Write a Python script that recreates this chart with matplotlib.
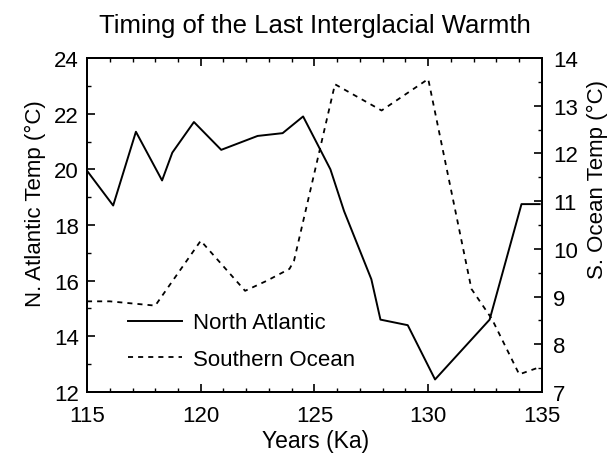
import matplotlib
matplotlib.use("Agg")
from matplotlib import pyplot as plt

# North Atlantic temperature (left axis)
na_years = [115.0, 116.15, 117.15, 118.3, 118.75, 119.7, 120.9, 122.5, 123.6, 124.5,
            125.7, 126.3, 127.5, 127.9, 129.1, 130.3, 132.7, 134.1, 134.9]
na_temp = [19.95, 18.7, 21.35, 19.6, 20.6, 21.7, 20.7, 21.2, 21.3, 21.9,
           20.0, 18.5, 16.05, 14.6, 14.4, 12.45, 14.6, 18.75, 18.75]

# Southern Ocean temperature (right axis)
so_years = [115.0, 116.0, 118.0, 120.0, 121.95, 122.9, 123.9, 124.1, 125.9,
            127.95, 130.0, 131.9, 132.8, 134.0, 134.9]
so_temp = [8.9, 8.9, 8.81, 10.17, 9.12, 9.33, 9.58, 9.75, 13.45,
           12.9, 13.56, 9.16, 8.53, 7.37, 7.52]

plt.rcParams['font.family'] = ['Liberation Sans', 'DejaVu Sans']

fig = plt.figure(figsize=(6.11, 4.56), dpi=100)
ax = fig.add_axes([0.1424, 0.1382, 0.7446, 0.7324])
ax2 = ax.twinx()

l1, = ax.plot(na_years, na_temp, color='black', lw=1.4, label='North Atlantic')
l2, = ax2.plot(so_years, so_temp, color='black', lw=1.3, dashes=(2.8, 2.8),
               label='Southern Ocean')

ax.set_xlim(115, 135)
ax.set_ylim(12, 24)
ax2.set_ylim(7, 14)
ax.set_xticks(range(115, 136, 5))
ax.set_xticks(range(115, 136), minor=True)
ax.set_yticks(range(12, 25, 2))
ax.set_yticks(range(12, 25), minor=True)
ax2.set_yticks(range(7, 15))
ax2.set_yticks([7 + 0.5 * i for i in range(15)], minor=True)

ax.tick_params(axis='both', which='both', direction='in', top=True, labelsize=16)
ax.tick_params(axis='y', which='both', right=False)
ax.tick_params(axis='x', which='major', pad=9.5)
ax.tick_params(axis='y', which='major', pad=6)
ax.tick_params(which='major', length=6, width=1.2)
ax.tick_params(which='minor', length=3, width=1.0)
ax2.tick_params(axis='y', which='both', direction='in', labelsize=16)
ax2.tick_params(which='major', length=6, width=1.2, pad=8)
ax2.tick_params(which='minor', length=3, width=1.0)
for a in (ax, ax2):
    for s in a.spines.values():
        s.set_linewidth(1.4)

ax.set_title('Timing of the Last Interglacial Warmth', fontsize=18.5, pad=18.5)
ax.set_xlabel('Years (Ka)', fontsize=16.5)
ax.set_ylabel('N. Atlantic Temp (°C)', fontsize=16)
ax2.set_ylabel('S. Ocean Temp (°C)', fontsize=16)
ax.xaxis.set_label_coords(0.503, -0.11)
ax.yaxis.set_label_coords(-0.090, 0.566)
ax2.yaxis.set_label_coords(1.099, 0.64)

ax.legend(handles=[l1, l2], loc='upper left', bbox_to_anchor=(0.09, 0.238),
          frameon=False, fontsize=16, handlelength=2.43, handletextpad=0.5,
          labelspacing=0.68, borderpad=0, borderaxespad=0)

fig.savefig('out.png', dpi=100)
